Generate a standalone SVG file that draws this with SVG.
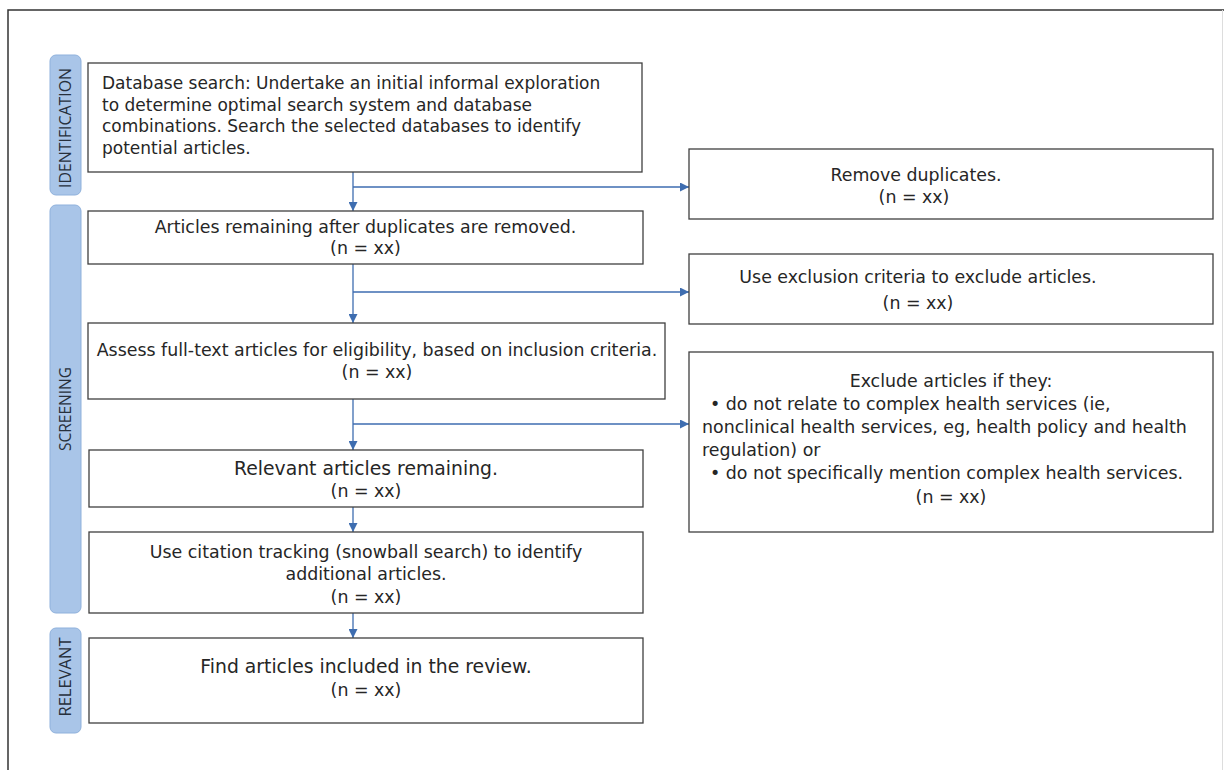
<svg xmlns="http://www.w3.org/2000/svg" width="1224" height="770" viewBox="0 0 1224 770">
<defs>
<style>
.box{fill:#fff;stroke:#3f3f3f;stroke-width:1.3}
.lab{fill:#a9c5e8;stroke:#8fb1dc;stroke-width:1}
.t{font-family:"DejaVu Sans","Open Sans",sans-serif;font-size:17.4px;fill:#262626}
.s1{font-size:17px}
.s2{font-size:18.8px}
.c{text-anchor:middle}
.lt{font-family:"Open Sans","Liberation Sans",sans-serif;font-size:16px;fill:#27303c;text-anchor:middle}
.con{stroke:#3e6db0;stroke-width:1.3;fill:none}
</style>
<marker id="ah" viewBox="0 0 10 10" refX="10" refY="5" markerWidth="9" markerHeight="9" markerUnits="userSpaceOnUse" orient="auto">
<path d="M0,0 L10,5 L0,10 z" fill="#3e6db0"/>
</marker>
</defs>
<rect width="1224" height="770" fill="#fff"/>
<g id="frame">
<path d="M8,770 L8,10 L1224,10" fill="none" stroke="#333" stroke-width="1.5"/>
<line x1="1222.5" y1="10" x2="1222.5" y2="770" stroke="#ddd" stroke-width="1"/>
</g>
<g id="label-identification">
<rect class="lab" x="50" y="55" width="31" height="140" rx="6"/>
<text class="lt" transform="translate(71,128) rotate(-90)" textLength="120" lengthAdjust="spacingAndGlyphs">IDENTIFICATION</text>
</g>
<g id="label-screening">
<rect class="lab" x="50" y="205" width="31" height="408" rx="6"/>
<text class="lt" transform="translate(71,409) rotate(-90)" textLength="84" lengthAdjust="spacingAndGlyphs">SCREENING</text>
</g>
<g id="label-relevant">
<rect class="lab" x="50" y="628" width="31" height="105" rx="6"/>
<text class="lt" transform="translate(71,677) rotate(-90)" textLength="79" lengthAdjust="spacingAndGlyphs">RELEVANT</text>
</g>
<g id="connectors">
<line class="con" x1="353" y1="172" x2="353" y2="211" marker-end="url(#ah)"/>
<line class="con" x1="353" y1="187" x2="689" y2="187" marker-end="url(#ah)"/>
<line class="con" x1="353" y1="264" x2="353" y2="323" marker-end="url(#ah)"/>
<line class="con" x1="353" y1="292" x2="689" y2="292" marker-end="url(#ah)"/>
<line class="con" x1="353" y1="399" x2="353" y2="450" marker-end="url(#ah)"/>
<line class="con" x1="353" y1="424" x2="689" y2="424" marker-end="url(#ah)"/>
<line class="con" x1="353" y1="507" x2="353" y2="532" marker-end="url(#ah)"/>
<line class="con" x1="353" y1="613" x2="353" y2="638" marker-end="url(#ah)"/>
</g>
<g id="n1">
<rect class="box" x="88" y="63" width="554" height="109"/>
<text class="t s1"><tspan x="102" y="89">Database search: Undertake an initial informal exploration</tspan><tspan x="102" y="110.5">to determine optimal search system and database</tspan><tspan x="102" y="132">combinations. Search the selected databases to identify</tspan><tspan x="102" y="153.5">potential articles.</tspan></text>
</g>
<g id="n2">
<rect class="box" x="88" y="211" width="555" height="53"/>
<text class="t c"><tspan x="365.5" y="233">Articles remaining after duplicates are removed.</tspan><tspan x="365.5" y="254">(n = xx)</tspan></text>
</g>
<g id="n3">
<rect class="box" x="88" y="323" width="577" height="76"/>
<text class="t c"><tspan x="377" y="356">Assess full-text articles for eligibility, based on inclusion criteria.</tspan><tspan x="377" y="378">(n = xx)</tspan></text>
</g>
<g id="n4">
<rect class="box" x="89" y="450" width="554" height="57"/>
<text class="t c"><tspan class="s2" x="366" y="475">Relevant articles remaining.</tspan><tspan x="366" y="497">(n = xx)</tspan></text>
</g>
<g id="n5">
<rect class="box" x="89" y="532" width="554" height="81"/>
<text class="t c"><tspan x="366" y="558">Use citation tracking (snowball search) to identify</tspan><tspan x="366" y="580">additional articles.</tspan><tspan x="366" y="603">(n = xx)</tspan></text>
</g>
<g id="n6">
<rect class="box" x="89" y="638" width="554" height="85"/>
<text class="t c"><tspan class="s2" x="366" y="673">Find articles included in the review.</tspan><tspan x="366" y="696">(n = xx)</tspan></text>
</g>
<g id="r1">
<rect class="box" x="689" y="149" width="524" height="70"/>
<text class="t c"><tspan x="916" y="181">Remove duplicates.</tspan><tspan x="914" y="203">(n = xx)</tspan></text>
</g>
<g id="r2">
<rect class="box" x="689" y="254" width="524" height="70"/>
<text class="t c"><tspan x="918" y="283">Use exclusion criteria to exclude articles.</tspan><tspan x="918" y="309">(n = xx)</tspan></text>
</g>
<g id="r3">
<rect class="box" x="689" y="352" width="524" height="180"/>
<text class="t"><tspan x="951" y="387" text-anchor="middle">Exclude articles if they:</tspan><tspan x="710" y="410">•  do not relate to complex health services (ie,</tspan><tspan x="702" y="433">nonclinical health services, eg, health policy and health</tspan><tspan x="702" y="456">regulation) or</tspan><tspan x="710" y="479">•  do not specifically mention complex health services.</tspan><tspan x="951" y="503" text-anchor="middle">(n = xx)</tspan></text>
</g>
</svg>
